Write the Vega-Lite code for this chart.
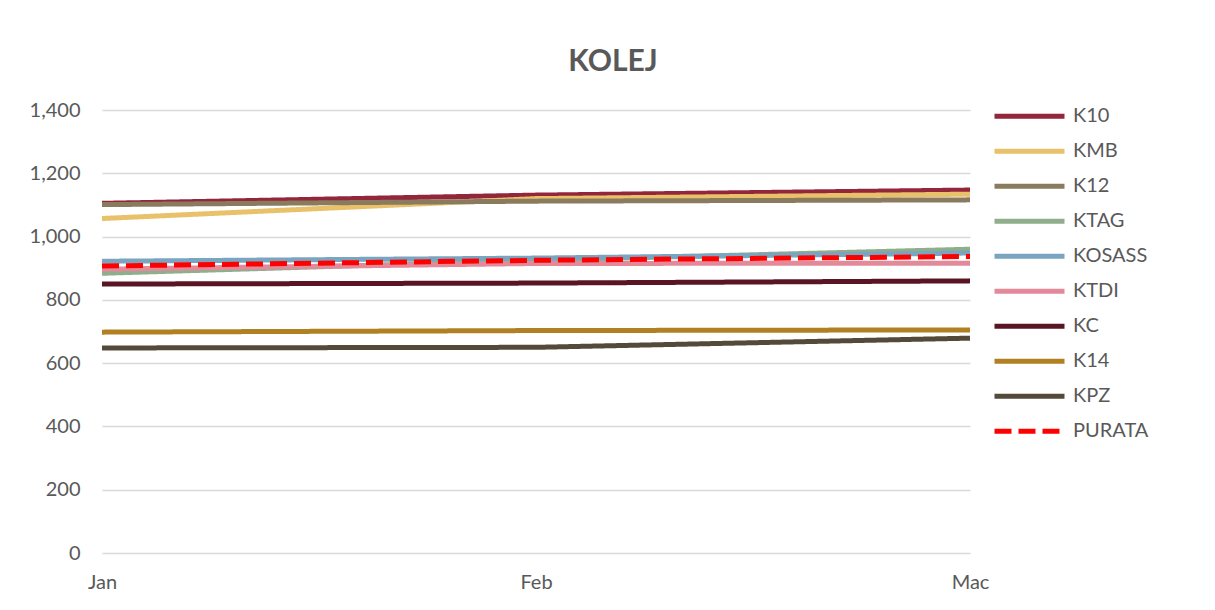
{
  "$schema": "https://vega.github.io/schema/vega-lite/v6.json",
  "autosize": "none",
  "width": 868,
  "height": 443,
  "padding": {"left": 102, "top": 110, "right": 245, "bottom": 57},
  "background": "white",
  "title": {"text": "KOLEJ", "fontSize": 30, "font": "Lato", "fontWeight": "bold", "color": "#595959", "anchor": "middle", "frame": "group", "dx": 77, "offset": 22},
  "config": {"view": {"stroke": null}, "font": "Lato"},
  "data": {"values": [
    {"series": "K10", "month": "Jan", "value": 1105},
    {"series": "K10", "month": "Feb", "value": 1131},
    {"series": "K10", "month": "Mac", "value": 1147},
    {"series": "KMB", "month": "Jan", "value": 1057},
    {"series": "KMB", "month": "Feb", "value": 1120},
    {"series": "KMB", "month": "Mac", "value": 1134},
    {"series": "K12", "month": "Jan", "value": 1101},
    {"series": "K12", "month": "Feb", "value": 1112},
    {"series": "K12", "month": "Mac", "value": 1116},
    {"series": "KTAG", "month": "Jan", "value": 884},
    {"series": "KTAG", "month": "Feb", "value": 925},
    {"series": "KTAG", "month": "Mac", "value": 960},
    {"series": "KOSASS", "month": "Jan", "value": 922},
    {"series": "KOSASS", "month": "Feb", "value": 932},
    {"series": "KOSASS", "month": "Mac", "value": 948},
    {"series": "KTDI", "month": "Jan", "value": 897},
    {"series": "KTDI", "month": "Feb", "value": 915},
    {"series": "KTDI", "month": "Mac", "value": 916},
    {"series": "KC", "month": "Jan", "value": 850},
    {"series": "KC", "month": "Feb", "value": 853},
    {"series": "KC", "month": "Mac", "value": 860},
    {"series": "K14", "month": "Jan", "value": 698},
    {"series": "K14", "month": "Feb", "value": 703},
    {"series": "K14", "month": "Mac", "value": 705},
    {"series": "KPZ", "month": "Jan", "value": 648},
    {"series": "KPZ", "month": "Feb", "value": 650},
    {"series": "KPZ", "month": "Mac", "value": 679},
    {"series": "PURATA", "month": "Jan", "value": 907},
    {"series": "PURATA", "month": "Feb", "value": 925},
    {"series": "PURATA", "month": "Mac", "value": 937}
  ]},
  "mark": {"type": "line", "strokeWidth": 5},
  "encoding": {
    "x": {"field": "month", "type": "ordinal", "sort": ["Jan", "Feb", "Mac"],
      "scale": {"type": "point", "padding": 0},
      "axis": {"title": null, "labelAngle": 0, "domain": false, "ticks": false, "grid": false, "labelFontSize": 20, "labelColor": "#595959", "labelPadding": 19}},
    "y": {"field": "value", "type": "quantitative",
      "scale": {"domain": [0, 1400]},
      "axis": {"title": null, "values": [0, 200, 400, 600, 800, 1000, 1200, 1400], "format": ",d", "domain": false, "ticks": false, "gridColor": "#d9d9d9", "gridWidth": 1.5, "labelFontSize": 20, "labelColor": "#595959", "labelPadding": 22}},
    "color": {"field": "series", "type": "nominal",
      "sort": ["K10", "KMB", "K12", "KTAG", "KOSASS", "KTDI", "KC", "K14", "KPZ", "PURATA"],
      "scale": {"domain": ["K10", "KMB", "K12", "KTAG", "KOSASS", "KTDI", "KC", "K14", "KPZ", "PURATA"],
        "range": ["#93263A", "#E8C16A", "#8A7B5E", "#8FAE8B", "#79A5C0", "#E2899A", "#5A1525", "#B08022", "#544A3A", "#FF0000"]},
      "legend": {"title": null, "orient": "none", "legendX": 890, "legendY": -11, "symbolType": "stroke", "symbolSize": 4900, "symbolStrokeWidth": 5, "labelFontSize": 20, "labelColor": "#595959", "rowPadding": 0, "clipHeight": 34.6, "labelOffset": 6}},
    "strokeDash": {"field": "series", "type": "nominal",
      "sort": ["K10", "KMB", "K12", "KTAG", "KOSASS", "KTDI", "KC", "K14", "KPZ", "PURATA"],
      "scale": {"domain": ["K10", "KMB", "K12", "KTAG", "KOSASS", "KTDI", "KC", "K14", "KPZ", "PURATA"],
        "range": [[1, 0], [1, 0], [1, 0], [1, 0], [1, 0], [1, 0], [1, 0], [1, 0], [1, 0], [17, 7]]},
      "legend": {"title": null, "orient": "none", "legendX": 890, "legendY": -11, "symbolType": "stroke", "symbolSize": 4900, "symbolStrokeWidth": 5, "labelFontSize": 20, "labelColor": "#595959", "rowPadding": 0, "clipHeight": 34.6, "labelOffset": 6}}
  }
}
